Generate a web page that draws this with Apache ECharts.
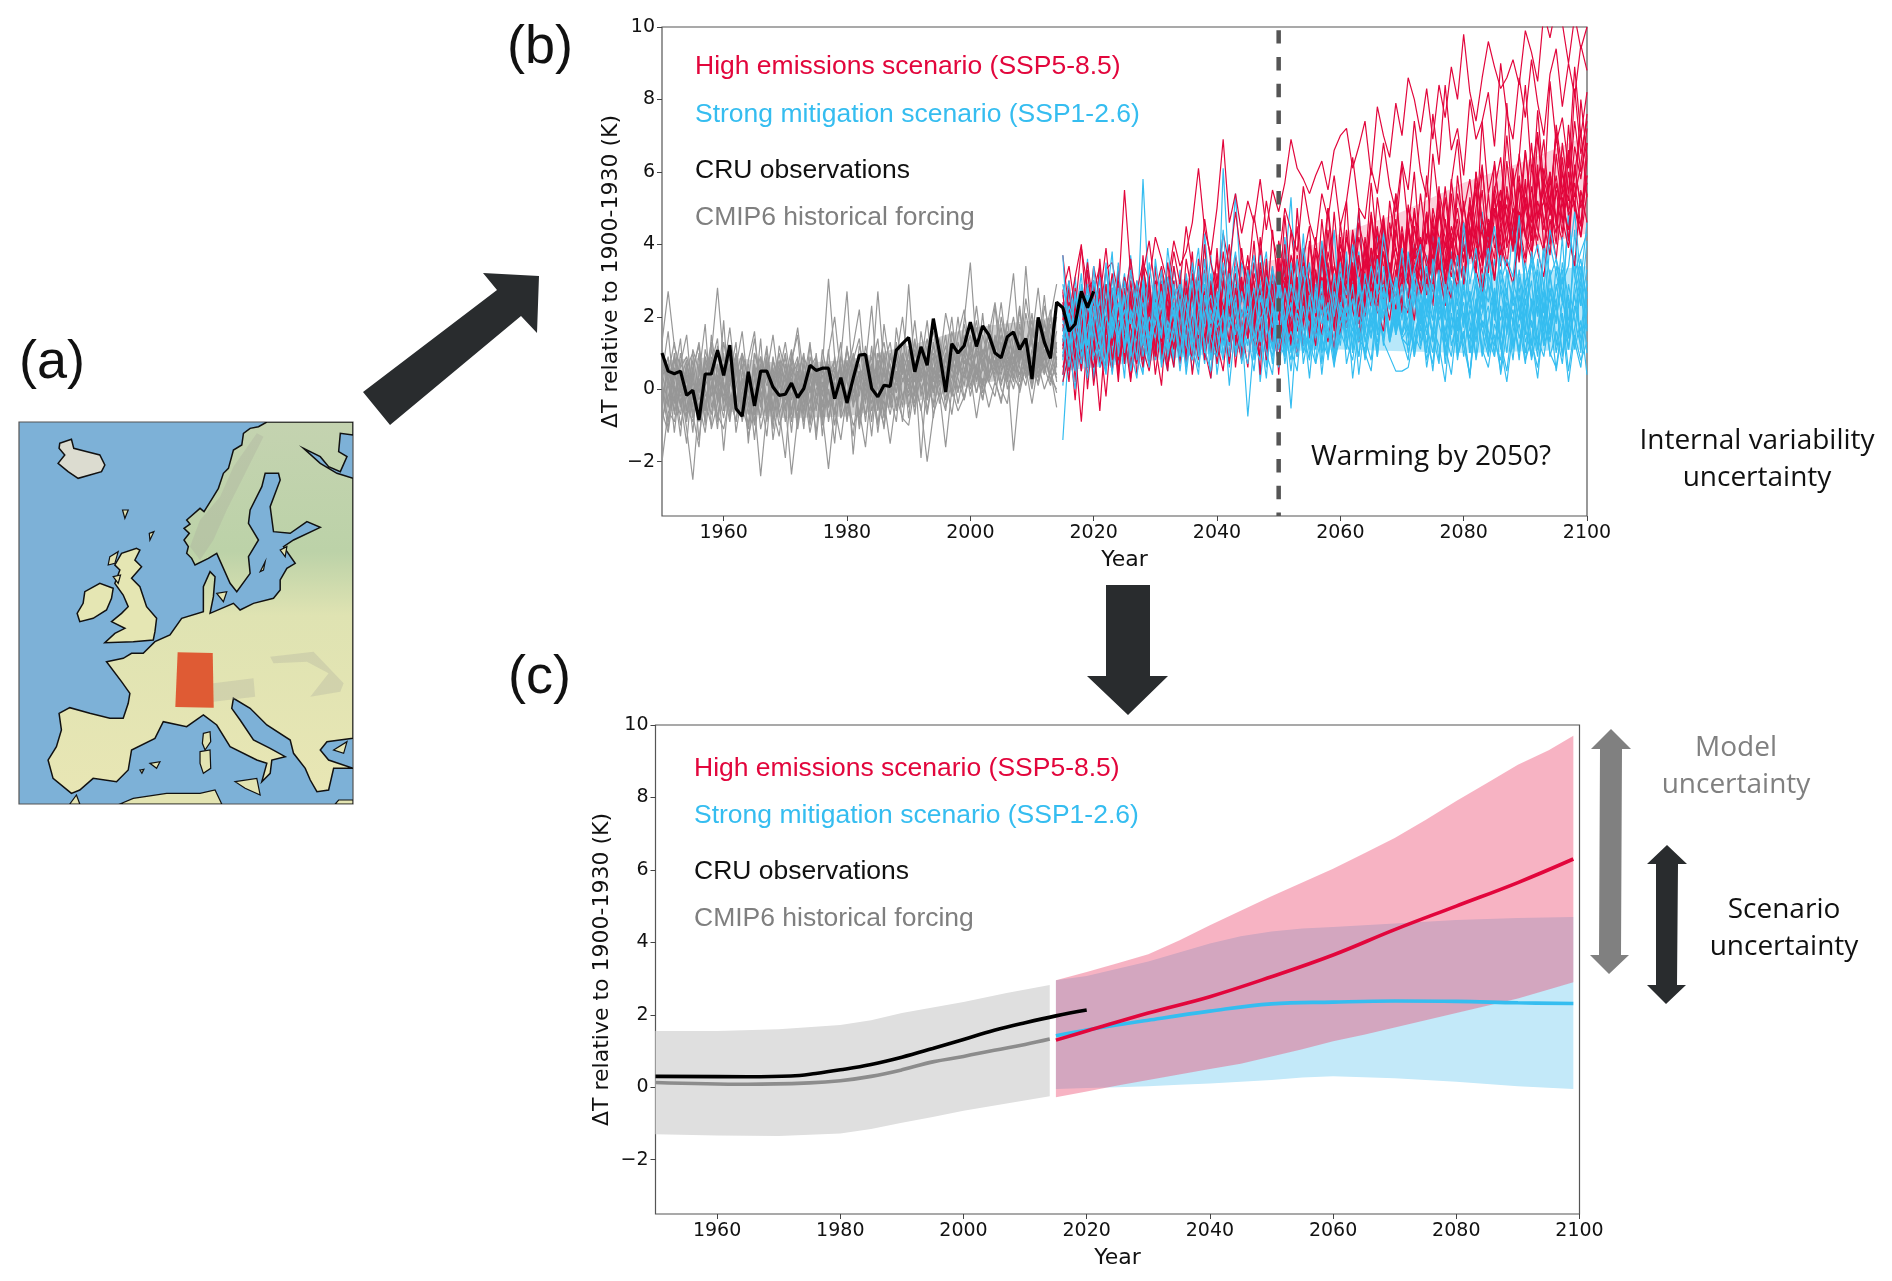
<!DOCTYPE html>
<html>
<head>
<meta charset="utf-8">
<title>Warming uncertainty</title>
<script src="https://cdn.jsdelivr.net/npm/echarts@6/dist/echarts.min.js"></script>
<style>
html,body{margin:0;padding:0;background:#fff;}
#main{width:1892px;height:1281px;}
</style>
</head>
<body>
<div id="main"></div>
<script>
// tick labels
var xTicks = [1960,1980,2000,2020,2040,2060,2080,2100];
var yTicks = [-2,0,2,4,6,8,10];
var legendLabels = ['High emissions scenario (SSP5-8.5)','Strong mitigation scenario (SSP1-2.6)','CRU observations','CMIP6 historical forcing'];

// panel b: CRU observations, 1950-2020
var cruYearly = [1.0,.5,.43,.5,-.17,-.03,-.85,.42,.42,1.08,
.38,1.22,-.53,-.75,.48,-.46,.5,.5,.06,-.17,
-.14,.17,-.23,.02,.66,.52,.58,.58,-.26,.32,
-.38,.3,.94,.96,.02,-.21,.11,.08,1.08,1.26,
1.43,.48,1.17,.66,1.95,1.0,-.08,1.26,1.0,1.2,
1.85,1.18,1.75,1.5,1.0,.87,1.45,1.58,1.1,1.4,
.28,1.98,1.3,.85,2.4,2.25,1.6,1.8,2.7,2.25,2.7];

// panel b: historical members, 1950-2014
var histRuns = [
[1.3,2.7,1.2,.6,.9,.2,-.3,.4,1.0,2.8,.8,.2,1.0,-.4,.3,1.4,.1,.6,-.2,.7,.3,1.1,.0,-.5,.6,.9,-.1,.4,.8,-.2,.5,1.2,2.2,.3,-.4,.6,1.3,.2,.9,.4,2.9,.5,1.1,-.2,.8,1.4,.3,1.0,.6,1.9,3.5,1.1,.7,1.6,.9,.4,1.2,2.0,.8,3.4,1.3,.7,1.9,1.0,2.4],
[-2.0,-.6,-.9,.1,-1.1,-2.5,-.4,-1.2,.2,-.7,-1.1,-.2,-.9,.3,-1.3,-.5,-2.4,-.6,.1,-1.0,-.4,-2.35,-.8,.0,-1.2,-.3,-.7,-2.2,-.5,-1.4,-.1,-1.0,-.6,-1.6,.2,-.9,-.3,-1.5,-.2,-.8,-1.0,.1,-.5,-2.0,-.7,-.1,-1.6,.0,-.6,-.2,.4,-.8,.3,-.5,.2,-.3,.5,-1.7,.1,.6,-.4,.7,.0,.5,-.5],
[.9,.1,-.6,.7,1.5,-.3,.4,1.8,-.5,.2,1.0,-.8,.6,1.6,.0,-1.0,.9,.3,-.6,1.2,.5,-.7,.8,.2,1.3,-.4,.6,3.05,.9,-.3,1.1,.4,-.9,.7,2.3,.1,1.0,-.5,1.7,.6,.2,1.3,.7,1.9,.3,-.2,1.0,.5,1.5,2.2,.8,1.4,.5,1.8,1.1,2.4,.9,1.6,.7,2.1,1.2,.6,2.3,1.5,.8],
[-.5,.7,.2,-1.0,-.2,.6,-1.4,.1,.5,-.8,.3,.9,-1.2,-.1,.7,-.9,.2,1.2,-.6,-1.3,.1,.6,-1.0,.4,-.4,1.0,-.7,.0,-1.5,.5,-.2,-1.3,.3,.8,-.6,.1,-1.1,.4,1.0,-.3,.5,-.7,.9,.2,-.4,1.1,.0,.6,-.1,.8,.3,1.0,.1,1.3,.5,.9,.2,1.5,.6,.1,1.1,.4,1.6,.7,.3],
[.2,-.9,.8,.3,-.6,1.1,.5,-.3,-1.0,.7,-.4,.4,1.3,-.7,.5,.0,-.8,.9,-1.1,.3,1.0,-.2,.5,-.9,.1,-1.2,.6,-.5,.3,1.3,-.8,.2,.7,-.4,1.2,-.6,.5,-.2,-.9,.8,.1,-.5,.4,1.2,-.8,.6,1.5,-.1,.9,.3,1.2,.5,2.1,.4,1.0,1.7,.6,1.2,.2,1.4,.7,1.9,.9,.4,1.3],
[.6,.3,-.4,1.0,-.1,.8,-.6,.9,.3,-.2,1.9,-.5,.1,.7,-1.5,.4,.9,-.3,.6,-.7,-.1,.8,1.5,-.4,.2,.7,-1.0,.5,-.3,.9,2.7,.0,-.7,.4,.9,-.5,1.8,.6,-.1,1.0,.4,1.4,-.2,.7,1.0,.1,.8,2.0,.4,.9,1.5,.2,1.1,.7,2.3,.5,1.0,.3,1.8,.9,.4,1.2,.8,2.0,1.1],
[-.8,-.2,.5,-.5,.3,-1.2,.7,.0,-.7,.4,-1.7,.2,.6,-.9,.1,.5,-1.1,-.3,.4,-.6,-1.9,.3,-.2,.5,-1.0,.0,.4,-.8,.2,-.5,.6,-1.8,.1,-.3,.5,-1.2,.2,.7,-.6,.3,-.1,.6,-1.9,.4,.9,-.4,.3,-.7,.5,1.0,-.2,.6,.0,.9,.3,-.4,.8,.2,1.1,.4,.8,.1,.9,.3,.0],
[.4,1.6,-.2,-.7,.6,1.0,-.1,.3,1.3,-.4,.5,1.7,.2,-.6,.8,1.6,-.2,.4,1.5,.1,-.6,.7,1.7,.3,-.1,.5,-.8,1.0,2.0,.4,-.4,.8,1.4,-.2,.3,2.7,.6,-.3,.8,2.0,.5,1.1,.2,.9,1.6,.7,2.1,1.3,.5,1.8,1.0,2.3,.9,1.5,2.4,1.1,1.8,3.2,1.0,2.5,1.4,2.8,1.2,2.0,2.9],
[-.3,.5,-1.2,.3,.8,-.7,-1.6,.6,-.2,1.2,.0,-.9,.4,1.0,-.5,.7,-.2,-1.3,.5,.1,.9,-.6,.2,-1.1,.7,.3,-.4,.6,-1.0,.1,1.1,.4,-.7,.2,-1.3,.5,.9,-.1,.5,-.9,.7,.2,1.2,-.3,.6,.0,-.6,.9,.3,-.3,.5,1.1,-.1,.4,.8,.0,-.4,.9,.4,.8,.0,1.0,.4,1.5,.2],
[1.1,-.4,.3,1.4,-.8,.6,1.2,-.6,.8,.1,-.3,1.1,.5,.0,-1.0,1.0,.3,.7,-.5,.4,1.3,.1,-.8,.9,.4,-.6,1.1,.2,.6,-.7,.4,.9,-.2,1.2,.3,-.5,.7,1.3,.1,.5,1.0,-.1,.6,1.4,.2,.9,.4,1.6,.8,1.2,.6,1.7,.9,.3,1.5,.8,1.3,.5,2.2,.7,1.7,1.0,2.6,.9,1.6],
[.0,-1.1,.6,-.3,-1.5,.4,-.7,.8,.2,-1.1,.7,-.1,-.9,.5,.2,-1.4,.4,-.6,.9,-.2,.3,-1.2,.5,.0,-.6,.8,-1.3,.3,-.1,.7,-.9,.4,.0,.8,-.2,-1.0,.6,-.4,.3,1.0,-.5,.5,.1,-.7,.4,1.2,-.3,.7,-.4,.5,.0,.7,-.3,.9,.2,1.3,.0,.6,1.2,.3,.9,.3,1.3,.5,-.1],
[.7,.4,1.3,.0,.5,-.5,1.0,-1.0,1.5,.3,-.2,.7,-.6,1.0,.4,-.3,1.4,-.9,.2,.8,-.5,.4,.9,-.3,1.2,.1,.7,-.1,-.7,.9,.2,-.4,1.2,.5,-.9,.8,.1,-.7,.3,1.3,.6,1.9,.3,.8,.0,1.0,.6,-.2,1.3,.7,1.0,.2,1.5,.8,.4,2.0,1.1,.5,1.6,1.0,2.1,.7,1.4,2.2,.6],
[-.6,-1.2,.1,-.4,.4,-.8,-.1,.9,-1.1,-.4,.2,-.7,.8,-.5,-1.1,.3,-.4,.7,-1.4,-.2,.4,-.9,.1,-.6,.5,-1.4,.2,-.4,.9,-.8,-.3,.6,-1.1,.0,.7,-.4,-1.0,.3,-.5,.6,-.2,.3,-.6,.5,-.1,.7,-.5,.2,1.0,-.3,.6,-.1,.8,.2,-.2,.9,.3,1.1,-.1,.7,.2,1.3,.5,.9,.4],
[.3,.9,-.7,.2,-.9,.5,1.3,-.2,.1,-.9,.6,1.1,-.3,.3,-.7,1.0,.4,-.8,.8,.2,-.3,1.0,-.6,.7,.0,.4,-.2,1.1,-.7,.3,.7,-.1,.5,-.9,.6,1.4,-.3,.9,.4,-.5,1.1,.3,.6,-.3,1.3,.5,.0,1.1,.7,1.5,.4,1.2,.8,.3,1.4,.6,1.9,.7,1.3,.5,1.6,1.1,.6,1.8,1.0],
[-1.0,.2,-.3,.5,-.5,-.9,.2,-.6,.6,.0,-.8,.6,-.4,.1,.4,-.7,.0,.5,-.9,.6,-.3,.2,-1.1,.1,.6,-.2,.8,-.9,.1,-.4,.8,-.5,.3,-.7,.1,.5,-.8,.1,.7,-.2,.3,-.4,1.1,-.6,.5,.2,.9,-.2,.4,1.1,.1,.5,-.3,.7,1.1,.2,.6,.0,.8,1.3,.1,.9,.6,.1,.9],
[.5,-.5,1.0,-.1,.7,.1,-.9,1.1,.4,-.3,1.3,.3,-.5,.9,.3,-.2,.6,-.6,.3,1.0,-.1,.4,.7,-.7,.9,.2,-.5,.7,.3,.6,-.2,1.0,.3,.5,-.2,1.0,.4,-.1,1.3,.2,.8,-.2,1.6,.5,1.2,.3,1.0,.6,2.0,.5,1.1,1.9,.6,1.2,.7,1.5,.4,1.1,2.3,.8,1.4,.6,1.8,1.2,.7],
[-.2,.6,.0,-1.3,.7,-.2,.3,-.5,.7,1.4,-.6,.1,.9,-.3,.3,-.7,.7,.1,.3,-.5,.7,-.3,.3,1.0,-.9,.6,.1,-.5,.5,.2,-.6,.7,-1.0,.3,.0,.8,-.7,.5,-.1,.9,-.8,.8,.0,.5,-.5,.4,.2,.9,.0,.5,.9,-.1,.6,.2,.7,.1,.9,.4,.0,1.0,.5,.2,1.1,.2,.7],
[1.0,.2,.9,-.2,.1,-.7,.3,-.9,.9,.5,.1,-.4,.4,.6,-.3,.6,-.5,1.1,.0,.5,-.9,.6,.2,-.2,.3,.5,-.4,.2,.6,-.1,1.2,-.3,.5,.1,.7,.3,-.2,1.0,.2,.7,.0,1.0,.5,.9,-.1,.6,1.2,.3,.8,.1,1.3,.4,1.0,1.5,.6,1.1,1.6,.8,.4,1.3,1.9,.6,1.5,1.1,2.0]
];

// panel b: SSP5-8.5 members, 2015-2100
var sspHighRuns = [
[2.7,3.4,2.2,3.9,2.8,3.0,2.1,3.3,3.5,2.6,5.5,3.2,2.7,3.5,3.0,4.2,3.6,2.9,4.1,3.4,3.8,4.6,6.1,4.4,3.7,5.0,6.9,4.6,5.4,4.3,5.2,4.6,5.8,4.4,5.5,4.9,5.7,6.9,6.1,5.8,5.4,5.9,6.3,5.5,6.6,7.0,7.2,6.1,6.7,7.4,5.9,7.8,7.0,6.4,7.9,7.0,8.6,8.0,7.1,8.3,6.9,8.4,7.5,8.9,8.0,9.8,8.2,7.4,8.6,9.6,8.9,8.3,8.6,9.1,8.4,9.9,9.3,8.5,10.4,9.7,10.6,10.1,9.0,10.3,9.4,10.0],
[3.7,2.1,3.1,4.0,1.8,3.4,2.5,3.9,2.2,3.0,2.4,3.6,2.3,3.2,4.1,2.7,3.4,2.5,3.8,2.9,4.5,3.3,2.6,4.7,3.5,2.8,4.3,3.4,4.9,3.6,3.0,4.8,3.7,5.2,4.2,3.5,5.0,4.4,3.8,5.6,4.6,4.0,5.4,4.7,5.9,4.5,5.2,6.4,5.0,4.7,6.1,5.4,6.8,5.6,4.9,6.3,5.5,7.4,6.0,5.3,7.6,6.2,8.4,6.6,7.2,5.9,8.0,6.9,7.4,8.2,6.7,9.0,7.6,6.9,8.6,7.5,9.1,7.9,7.0,8.7,9.4,7.8,9.0,8.1,9.5,8.8],
[.9,1.6,-.3,2.0,.6,1.3,-.6,1.8,2.4,.8,1.5,.2,2.1,1.1,.5,1.7,2.5,.9,1.4,2.2,.7,1.9,2.6,1.1,.3,2.3,1.5,.9,2.8,1.7,.6,2.4,1.2,3.0,1.8,1.1,2.7,3.3,1.6,2.3,3.0,1.4,2.6,3.5,2.0,2.9,1.7,3.4,2.4,3.9,2.8,2.1,4.1,3.0,2.5,3.6,4.4,2.9,3.4,2.6,4.0,3.1,4.7,3.5,2.8,4.2,5.1,3.6,4.4,3.2,4.8,5.5,3.9,4.5,5.9,4.2,3.6,5.2,4.4,6.0,4.7,5.5,4.1,6.2,5.0,5.7],
[1.4,.2,2.6,1.0,2.2,.1,1.5,2.9,.8,1.9,1.2,2.7,.4,1.6,3.1,1.0,2.2,1.5,.6,2.6,1.8,.8,3.2,1.4,2.4,.7,1.9,3.5,1.5,.9,2.5,3.0,1.2,2.1,3.4,.4,2.6,1.7,.9,3.1,2.0,1.2,3.6,2.4,1.0,3.0,1.8,3.3,1.3,2.7,3.9,2.2,1.6,3.5,2.5,4.3,3.0,1.9,3.8,2.9,4.6,3.3,2.3,4.1,3.0,5.2,3.6,4.4,2.8,3.9,5.0,3.4,4.5,6.1,3.7,5.3,4.1,5.9,4.6,3.7,5.5,4.3,6.5,5.0,4.2,6.4],
[2.2,1.2,.5,1.6,2.9,1.0,2.3,.7,1.4,3.2,2.0,.9,1.7,2.6,.6,2.9,1.3,3.5,2.1,1.0,2.8,1.6,3.3,.8,2.2,1.5,3.8,2.5,1.3,3.0,2.1,4.1,1.9,2.7,1.4,3.6,2.4,4.4,2.9,1.7,3.4,2.3,4.7,3.1,1.8,3.7,2.7,4.3,2.0,3.3,4.8,3.0,3.8,2.4,5.4,3.4,2.9,4.5,3.5,4.9,2.7,3.8,5.6,4.0,3.1,4.6,3.7,6.0,4.4,3.3,5.3,4.1,6.3,4.8,3.5,5.6,4.3,7.0,5.1,6.0,4.5,6.8,5.4,7.4,6.0,6.8],
[.4,1.9,1.1,-.9,1.5,2.4,.6,1.1,2.0,.2,2.5,1.3,.7,1.9,2.8,1.2,.1,2.3,1.6,3.0,1.0,2.0,.8,2.7,1.4,3.2,1.9,.7,2.5,1.3,3.4,2.2,.9,2.9,1.6,3.9,2.3,1.2,3.1,2.0,4.1,2.6,1.5,3.3,2.1,4.2,2.9,3.5,1.8,4.0,2.6,3.4,4.7,3.0,2.2,4.3,3.3,5.0,3.7,2.8,4.4,3.2,5.3,3.9,4.7,3.0,4.1,5.5,3.6,4.6,3.0,5.2,4.0,5.9,4.5,3.6,6.2,4.8,5.5,4.0,6.5,5.1,4.4,6.0,7.1,5.3],
[2.7,.8,1.7,2.6,.0,1.9,3.1,1.3,.5,2.2,.9,1.8,3.0,1.2,2.3,.4,1.7,2.9,1.9,.8,2.4,1.3,3.6,2.2,1.0,2.7,1.7,3.0,.6,2.2,1.4,3.2,2.5,.8,2.9,1.9,3.6,1.3,2.4,3.8,1.9,2.9,2.2,4.4,2.6,1.5,3.6,2.7,5.0,2.3,3.2,4.0,2.5,4.6,3.5,2.7,5.1,4.0,3.0,4.3,3.6,5.6,3.0,4.2,5.0,3.8,4.5,3.3,6.1,4.3,3.6,5.5,4.7,3.9,6.5,5.0,4.1,5.7,6.9,4.8,5.9,4.6,7.3,5.3,6.2,7.6],
[1.1,2.4,1.9,.6,3.3,1.6,.9,2.5,1.2,3.4,.7,2.0,1.4,2.8,1.8,.9,3.3,2.2,1.1,2.7,.6,3.1,1.8,2.4,1.2,3.9,1.5,2.6,2.1,1.0,2.8,1.6,4.2,2.5,1.3,3.5,1.9,3.0,4.5,2.3,1.5,3.8,2.8,3.3,1.9,4.6,3.1,2.4,3.6,2.9,4.9,3.4,2.7,4.1,5.4,3.7,3.0,4.9,3.4,2.9,5.0,4.2,3.4,5.8,4.3,3.6,4.9,4.1,5.5,3.5,6.3,4.6,5.4,4.0,5.0,6.6,4.8,4.1,6.1,5.2,7.1,5.4,6.6,4.9,8.0,6.4],
[1.9,3.0,.2,2.3,1.4,2.7,3.4,.6,2.1,1.5,3.1,2.4,1.0,3.7,1.6,2.5,.9,3.1,2.0,1.3,3.6,2.6,1.4,2.9,1.9,.9,3.0,2.2,1.5,3.9,2.4,1.2,3.3,2.1,4.4,2.7,1.7,3.7,3.0,1.8,4.0,3.2,2.3,5.0,3.5,2.4,4.4,3.0,3.7,2.2,4.8,3.5,2.8,5.2,3.9,3.1,4.4,6.0,3.7,4.9,3.4,5.5,4.6,3.3,5.9,4.4,3.7,5.0,6.2,4.2,5.6,4.7,7.0,5.2,4.3,6.6,5.0,7.7,5.6,4.8,7.3,6.0,5.2,8.3,6.5,7.4],
[.6,1.3,2.2,1.7,.3,2.9,1.8,1.0,2.7,.5,1.6,3.3,2.2,.8,2.0,3.0,1.5,.5,2.8,1.7,.9,3.2,2.0,1.1,2.6,3.6,1.7,.8,2.3,3.1,1.4,2.7,.4,3.3,2.4,1.5,4.0,2.0,3.0,1.2,2.7,4.2,2.2,3.2,1.6,3.8,2.5,4.4,3.3,2.0,3.9,2.9,4.6,2.5,3.6,2.1,4.5,3.5,2.7,4.8,3.2,4.2,2.9,5.4,3.7,3.0,4.6,5.7,3.4,4.4,5.3,3.7,4.8,3.9,5.6,4.3,3.8,6.0,4.6,5.2,4.0,6.4,4.9,5.7,4.5,6.8],
[2.4,1.0,2.8,.9,2.0,1.2,3.6,1.5,2.7,1.0,2.3,.6,2.9,2.0,1.2,3.4,.8,2.1,3.0,1.1,2.2,3.8,1.0,2.0,3.0,1.5,2.9,4.0,1.2,2.6,3.7,1.8,2.8,1.1,3.3,2.2,4.8,2.9,1.7,3.6,4.5,2.0,3.1,2.5,4.9,3.0,5.2,2.6,4.2,3.3,5.7,3.9,4.8,3.2,4.3,6.2,4.5,3.6,5.4,4.0,6.5,5.0,3.9,5.7,6.9,4.9,5.8,4.3,7.4,5.4,6.2,4.8,7.9,5.6,6.4,8.4,6.0,7.1,5.4,8.5,6.8,7.5,6.1,8.9,7.0,8.2],
[1.6,2.8,1.3,2.1,3.5,2.2,.7,1.9,3.2,2.3,1.1,2.4,1.9,3.3,2.5,1.4,2.9,1.7,3.4,2.3,1.5,2.7,2.0,4.0,1.7,2.9,2.3,1.3,3.7,2.8,1.9,3.5,2.6,3.0,1.8,4.1,3.2,2.0,5.0,2.9,2.2,3.9,3.4,5.0,2.7,4.0,3.3,2.5,4.6,3.8,3.0,5.3,4.1,3.1,4.7,2.8,5.0,4.4,3.5,5.9,3.9,4.8,4.2,3.4,5.4,4.5,3.8,6.0,4.7,4.0,5.5,6.4,4.6,3.9,5.7,5.0,6.8,4.7,5.8,5.1,7.0,5.6,4.9,6.7,5.8,7.2],
[.2,1.0,1.7,.5,2.4,.9,1.4,-.2,1.9,1.1,2.6,.3,1.3,2.0,.8,1.5,2.7,.6,1.7,1.2,2.3,.4,1.9,.9,2.7,1.3,.5,2.2,1.6,.8,2.9,1.5,.9,2.4,1.7,.7,3.0,1.9,1.1,2.6,1.4,3.3,2.1,1.3,2.8,1.8,3.5,2.2,1.5,3.1,2.3,3.7,2.7,1.9,3.3,2.4,2.1,3.9,2.6,3.2,2.3,4.2,3.0,2.5,3.7,2.9,4.4,3.3,2.6,4.0,3.0,4.6,3.5,2.9,4.3,3.4,5.0,3.8,3.1,4.7,3.6,5.3,4.2,3.4,5.5,4.6],
[1.8,1.0,2.3,1.4,.7,2.5,1.1,2.0,1.6,.9,2.8,1.7,1.1,2.4,2.9,1.6,1.0,2.6,1.3,2.1,3.0,1.4,2.5,1.8,1.1,2.2,3.3,1.9,1.3,2.9,1.8,1.2,3.5,2.3,1.6,2.9,2.2,1.4,3.7,2.6,1.9,3.2,2.1,3.8,2.9,2.3,3.4,2.7,1.9,4.2,3.0,2.4,3.8,2.8,4.4,3.3,2.5,4.0,3.6,2.8,4.8,3.5,2.7,4.3,3.4,5.1,3.9,3.2,4.7,3.7,5.4,4.0,3.4,5.0,4.2,5.8,3.8,4.7,5.2,4.0,5.7,4.7,3.9,6.1,5.1,5.9],
[2.1,.5,1.4,2.7,1.2,.6,2.2,1.7,2.8,.4,1.9,1.3,2.5,.9,1.8,2.3,1.1,3.0,1.5,.9,2.2,2.8,1.6,1.1,2.9,2.0,1.3,2.5,3.2,1.6,2.3,.9,2.9,1.9,2.5,3.4,1.2,2.7,2.1,3.4,2.5,1.7,4.0,2.3,3.4,2.8,2.0,3.9,3.0,2.4,3.5,4.5,2.5,3.3,3.9,2.9,4.6,3.2,4.1,3.4,2.7,4.9,3.8,3.1,4.4,3.5,5.2,4.1,3.5,5.4,3.9,4.4,5.1,3.8,4.9,4.2,5.6,4.4,3.8,5.8,4.7,4.1,6.0,5.0,4.5,5.9],
[1.2,1.9,.8,2.4,1.7,1.0,2.8,.9,2.3,1.8,1.0,3.0,1.6,.6,2.4,1.9,2.9,1.4,2.0,.7,2.6,1.7,2.2,3.3,1.0,2.4,1.8,3.3,2.0,1.4,3.1,2.4,1.6,3.6,1.3,2.5,3.1,2.4,1.8,3.5,3.0,2.2,3.7,1.9,3.1,2.6,4.2,3.2,2.3,3.6,2.9,4.4,3.4,2.6,3.1,4.5,3.3,2.7,4.2,3.6,3.0,5.2,3.3,4.5,3.8,2.9,5.3,4.0,3.2,4.7,4.2,3.6,5.6,4.4,3.6,5.1,4.6,6.2,3.9,5.0,4.3,6.0,4.8,5.2,4.2,5.4]
];

// panel b: SSP1-2.6 members, 2015-2100
var sspLowRuns = [
[-1.4,1.3,2.4,.8,1.7,2.9,1.1,3.3,1.9,.7,2.2,3.7,1.5,5.8,2.4,1.2,2.9,1.7,3.4,2.1,1.3,2.8,3.9,1.8,2.5,1.1,6.1,3.0,5.4,2.4,3.3,1.7,2.9,3.8,1.4,2.6,3.4,5.3,2.2,3.1,1.6,2.8,3.5,1.9,3.0,2.4,1.5,3.4,4.9,2.6,2.0,3.1,4.5,2.8,1.9,3.6,2.5,4.0,3.3,2.1,4.3,3.0,1.9,3.5,2.7,4.1,2.4,3.3,4.9,2.9,2.1,4.0,3.2,2.5,4.4,2.9,3.6,2.0,4.1,3.1,3.6,2.4,4.7,3.2,3.8,4.3],
[3.7,.9,2.7,1.4,.3,1.8,3.1,.7,2.0,1.3,2.6,.5,1.6,2.4,1.0,2.9,.6,1.9,1.3,2.5,.4,1.8,3.0,1.1,.5,2.2,1.4,3.2,.9,1.7,-.75,1.3,2.0,1.0,.4,2.5,1.6,-.53,1.9,1.0,2.6,.7,1.5,2.2,.9,1.8,2.5,.3,1.7,1.0,.5,2.3,1.3,.9,.5,.5,.6,1.5,2.2,.8,1.7,1.2,.2,2.1,1.0,1.6,.3,2.4,1.1,.6,1.8,1.2,.2,1.6,2.3,.8,1.4,.3,2.0,1.0,.6,1.8,.2,1.5,.8,1.3],
[.1,2.1,1.0,2.9,1.5,.4,2.4,1.2,3.1,1.6,.7,2.7,1.9,3.4,1.2,2.3,.8,1.6,2.8,1.1,3.2,2.0,1.3,4.3,2.3,1.5,3.1,2.2,1.0,3.5,2.5,1.7,3.9,2.1,2.9,1.4,4.2,2.7,1.8,3.3,2.2,1.2,3.5,2.6,4.4,1.9,3.0,2.4,3.8,1.5,2.9,4.3,2.2,3.3,1.8,2.9,3.6,2.6,1.8,3.7,2.4,4.2,2.0,3.2,2.7,1.7,3.9,3.0,2.2,4.4,1.9,3.3,2.6,4.5,2.2,1.6,3.8,2.9,2.1,4.0,3.2,2.4,4.9,3.1,2.3,4.1],
[2.3,1.1,.0,1.9,2.8,.9,1.4,2.3,.4,1.8,2.6,1.1,.3,2.0,1.2,2.7,.7,1.5,2.2,.5,1.9,1.2,.4,2.6,1.4,.9,2.2,.1,1.8,1.3,2.9,.8,1.6,.3,2.4,1.1,1.9,.5,2.1,1.5,.8,2.7,1.0,1.7,.6,2.3,1.3,.8,2.0,1.6,2.7,1.1,2.4,1.3,2.2,1.5,2.4,.9,2.0,1.3,.7,2.5,1.5,.9,2.2,1.2,.4,1.8,2.6,1.0,1.5,.5,2.3,1.2,1.8,.7,2.5,1.4,.9,2.1,.5,1.7,2.6,1.1,1.9,.4],
[.8,2.7,1.6,.5,2.2,1.4,3.4,.9,2.5,1.8,.3,2.9,1.3,2.2,3.0,.8,1.9,2.5,.7,3.3,1.7,2.6,1.1,2.0,3.7,1.3,2.3,.6,2.9,1.8,1.2,3.5,2.4,1.0,2.7,3.2,1.6,.8,2.2,4.3,1.7,2.9,1.1,3.3,2.3,1.4,3.0,1.9,.9,2.5,3.7,1.5,2.4,3.1,1.8,2.6,1.4,3.4,2.0,2.9,1.3,3.1,2.3,3.8,1.6,2.7,1.9,.9,3.0,2.4,3.6,1.4,2.6,1.8,3.3,2.1,1.2,3.6,2.2,1.5,3.4,2.7,1.1,2.9,3.6,2.2],
[1.7,.6,1.9,3.2,.8,2.3,1.2,.4,2.8,1.5,2.2,.9,3.0,1.8,.6,2.4,1.5,3.1,2.0,.9,2.6,1.3,3.4,1.0,2.2,1.6,.8,2.9,2.1,1.2,3.3,1.4,2.5,1.9,.7,3.0,1.7,2.4,1.1,2.8,3.5,1.4,2.2,.9,2.7,1.8,2.3,1.1,3.1,2.0,1.4,2.6,2.9,1.5,2.6,1.4,1.2,2.9,1.6,3.4,2.2,.8,2.6,1.5,2.9,2.0,1.2,3.2,1.7,2.3,.9,2.8,1.6,3.0,2.3,1.0,2.2,3.3,1.4,2.7,1.8,3.5,2.5,1.2,3.0,1.7],
[.4,1.5,3.1,1.1,2.0,.8,2.6,1.7,.6,2.2,3.2,1.4,2.5,.5,1.8,2.9,1.2,.5,2.4,1.7,3.1,.9,2.1,1.3,2.8,.4,1.7,2.3,.9,3.0,1.5,.5,2.1,3.4,1.3,2.5,.7,1.9,2.8,1.0,1.6,2.3,.4,2.0,1.2,2.8,.7,1.5,2.2,.8,1.9,1.3,2.4,1.4,2.3,1.5,2.8,1.1,2.3,.6,1.7,2.6,1.2,.4,2.0,1.4,2.7,.8,1.9,1.1,2.4,.4,1.6,2.2,.8,2.8,1.3,.6,1.9,2.5,1.0,2.1,.5,1.7,2.8,1.0],
[2.9,1.9,.5,2.4,1.2,3.0,2.1,.8,1.7,3.5,1.0,2.2,1.6,2.9,.9,2.0,3.3,1.4,2.4,1.0,1.9,3.0,.9,3.6,1.8,2.4,1.2,2.8,3.8,1.6,2.3,.9,2.6,1.9,3.4,1.3,2.8,2.0,3.6,1.2,2.4,1.6,3.0,.8,2.2,3.5,1.7,2.5,1.3,3.2,2.4,1.6,3.4,2.2,3.1,1.9,3.8,2.5,1.4,2.9,1.9,3.3,.9,2.4,3.7,1.8,2.7,1.3,2.9,3.9,2.0,1.4,3.3,2.3,2.8,1.5,3.8,2.4,1.6,3.1,2.2,4.2,1.6,2.6,3.4,2.5],
[1.2,2.4,.8,1.5,2.6,.2,1.8,2.9,1.1,.6,1.9,2.5,1.0,.4,2.7,1.5,2.2,.7,1.3,3.0,2.1,.5,1.6,2.4,.3,1.9,2.9,1.2,2.2,.8,1.5,2.7,.2,1.8,1.1,2.4,.9,3.0,1.4,1.9,.3,2.1,1.3,2.7,.8,1.6,1.1,2.4,.4,1.9,3.1,.9,2.5,1.3,2.1,1.4,.8,2.6,1.2,1.8,.5,2.2,1.4,2.8,.9,1.5,.4,2.3,1.6,.9,2.7,1.3,.5,1.9,1.1,2.5,.8,1.7,2.9,.9,1.6,.7,2.4,1.3,.6,2.2],
[2.0,3.0,1.3,.7,2.3,1.7,.9,3.5,1.4,2.4,1.1,3.3,2.2,1.4,.8,3.6,2.3,1.1,2.9,1.6,.6,2.4,1.5,3.2,.8,2.1,3.5,1.7,2.6,.7,2.0,2.8,1.3,3.1,2.3,.6,1.7,2.9,2.2,3.4,.9,1.8,2.6,1.4,3.2,2.0,3.8,1.0,2.3,2.9,1.7,3.6,2.0,3.2,1.7,2.9,1.6,3.2,2.6,1.0,3.6,1.9,2.4,3.0,1.3,3.4,2.2,2.9,1.0,3.2,2.4,3.7,1.5,2.7,1.9,3.5,2.3,1.1,3.9,1.9,2.8,3.3,1.5,4.4,2.3,3.3],
[1.5,.3,2.2,1.7,3.6,1.0,2.7,1.9,.9,2.9,1.4,.6,2.1,3.1,1.7,.9,2.6,1.9,.6,2.2,2.9,1.1,1.8,.7,3.0,2.3,1.3,1.9,3.2,1.0,2.6,1.6,3.0,.6,2.1,1.7,3.3,1.1,.5,2.4,1.9,3.3,.7,2.3,1.7,2.7,1.4,3.0,2.0,.9,2.4,2.9,1.2,2.7,1.5,2.5,1.0,1.9,3.0,2.4,1.5,2.9,.7,2.0,1.7,3.1,1.0,2.4,3.2,1.4,.9,2.9,2.2,1.2,3.1,1.7,.9,2.6,1.9,3.3,1.2,2.4,1.9,3.7,1.0,2.7],
[.9,2.0,1.4,2.6,.6,3.4,1.6,2.3,3.8,.9,3.0,1.8,2.7,1.2,3.5,2.2,1.4,3.9,2.5,2.9,1.2,3.5,2.3,1.7,3.2,1.9,4.4,2.3,3.4,2.0,2.8,3.7,1.9,2.3,3.3,2.7,1.6,3.5,2.3,3.9,2.7,2.1,4.1,3.0,2.0,3.2,2.6,4.0,2.9,2.1,3.4,2.6,4.3,3.1,2.6,3.9,2.3,3.3,4.0,2.0,3.2,4.2,2.6,3.6,2.3,4.6,2.9,3.9,2.4,3.5,4.5,2.9,3.6,3.1,4.8,2.6,3.4,4.0,2.8,4.4,3.6,2.9,3.4,4.9,3.0,4.6],
[1.0,1.8,.6,2.5,1.3,2.0,.7,2.9,1.6,2.2,1.1,.8,2.4,1.7,3.1,1.0,2.1,1.4,3.0,.9,1.6,2.7,1.1,2.2,.8,2.6,1.6,1.2,2.3,.8,2.0,1.1,2.7,1.5,.9,2.3,1.8,1.2,2.9,.7,1.7,2.4,1.4,.9,2.1,1.2,2.9,1.8,.9,2.3,1.5,2.8,1.4,2.6,1.5,2.3,2.2,.9,2.7,1.8,1.0,2.3,1.6,2.9,.8,2.1,1.4,2.5,.9,1.9,2.8,1.1,2.1,.8,2.6,1.3,1.9,.9,2.7,1.6,2.3,1.0,1.7,2.6,1.4,1.8],
[1.9,1.2,2.6,.9,1.7,2.5,1.4,.5,2.1,2.7,1.7,1.0,2.3,.9,2.0,1.4,2.6,.9,1.8,2.4,1.2,.8,2.2,2.9,1.5,2.7,.9,2.0,1.5,2.7,1.9,1.2,.8,2.5,1.7,2.9,1.1,1.6,.9,2.3,1.3,.7,2.5,1.7,1.0,2.4,1.9,2.9,1.4,1.1,2.0,1.7,2.8,1.5,3.0,1.4,1.7,1.2,2.4,1.5,2.9,1.8,1.1,1.7,2.5,.9,2.2,1.5,2.7,1.6,1.2,2.3,1.0,2.6,1.4,2.1,3.0,1.1,2.4,1.3,2.9,1.9,1.1,2.3,1.6,2.9],
[2.6,1.6,1.2,2.1,.7,2.8,1.9,1.3,2.3,.9,1.6,3.0,.8,2.4,1.9,1.2,3.0,2.2,.9,1.6,2.3,3.1,1.7,2.4,1.1,.9,2.5,1.8,2.7,1.2,3.1,2.1,1.4,2.4,3.0,1.3,.9,2.3,1.6,2.5,3.0,1.1,2.7,2.1,1.4,3.1,1.2,2.2,2.7,1.4,.8,2.5,1.9,3.3,1.6,2.9,3.2,1.5,1.1,2.5,1.9,3.0,1.3,2.5,1.1,2.9,1.6,2.1,3.1,1.2,2.5,1.9,2.8,1.1,2.0,3.0,1.7,2.3,1.2,2.8,1.9,3.1,1.4,2.1,3.2,1.6],
[1.3,2.3,1.8,1.1,2.9,1.7,.6,2.0,1.5,2.8,1.2,2.1,.8,3.0,1.4,1.8,2.7,1.1,1.6,2.8,2.2,1.5,.6,2.1,2.6,1.7,2.1,.9,2.4,1.3,.7,2.2,2.9,1.7,1.2,3.2,2.0,1.0,2.4,1.7,1.1,2.9,1.8,2.4,.7,1.5,2.2,1.6,2.9,1.3,2.1,.9,2.7,1.4,2.6,1.5,2.0,3.0,1.2,2.1,1.5,.7,2.9,1.2,1.9,2.4,1.0,1.6,2.1,2.9,1.3,.8,2.4,1.9,1.0,2.2,.9,2.9,1.2,1.8,2.5,.9,2.9,1.9,1.2,3.0]
];

// panel b: dense core of each ensemble: [year, low, high]
var histCore = [[1950,-.6,.8],[1960,-.6,.9],[1970,-.8,.7],[1980,-.75,.8],[1990,-.4,1.2],[2000,.1,1.7],[2010,.4,1.9],[2014,.5,2.0]];
var sspLowCore = [[2015,.5,2.4],[2040,1.0,2.9],[2060,1.1,3.0],[2080,1.0,3.0],[2100,1.1,3.4]];
var sspHighCore = [[2015,.7,2.4],[2030,1.0,2.9],[2040,1.3,3.2],[2050,1.7,3.6],[2060,2.2,4.3],[2070,2.9,4.9],[2080,3.4,5.7],[2090,3.9,6.3],[2100,4.3,7.0]];

// panel c: smoothed means [year, value]
var cruSmooth = [[1950,.3],[1965,.29],[1972,.31],[1976,.38],[1980,.48],[1985,.63],[1990,.83],[1995,1.07],[2000,1.32],[2005,1.57],[2010,1.78],[2015,1.97],[2020,2.13]];
var histMean = [[1950,.13],[1965,.08],[1975,.12],[1980,.18],[1985,.3],[1990,.48],[1995,.7],[2000,.85],[2005,1.02],[2010,1.18],[2014,1.33]];
var sspHighMean = [[2015,1.3],[2020,1.55],[2030,2.05],[2040,2.5],[2050,3.05],[2060,3.65],[2070,4.35],[2080,5.0],[2090,5.65],[2099,6.3]];
var sspLowMean = [[2015,1.42],[2020,1.58],[2030,1.85],[2040,2.1],[2050,2.3],[2060,2.35],[2070,2.38],[2080,2.37],[2090,2.33],[2099,2.31]];

// panel c: uncertainty bands [year, low, high]
var histBand = [[1950,-1.3,1.55],[1960,-1.33,1.55],[1970,-1.35,1.6],[1980,-1.28,1.72],[1985,-1.15,1.85],[1990,-.98,2.05],[1995,-.82,2.2],[2000,-.65,2.35],[2007,-.45,2.6],[2014,-.25,2.82]];
var sspLowBand = [[2015,-.05,2.95],[2020,-.02,3.07],[2025,.0,3.27],[2030,.03,3.47],[2035,.07,3.72],[2040,.1,3.97],[2045,.15,4.17],[2050,.2,4.3],[2055,.27,4.38],[2060,.3,4.42],[2070,.25,4.52],[2080,.15,4.62],[2090,.03,4.67],[2099,-.05,4.7]];
var sspHighBand = [[2015,-.28,2.95],[2020,-.12,3.18],[2025,.05,3.42],[2030,.2,3.67],[2035,.35,4.05],[2040,.5,4.47],[2045,.65,4.87],[2050,.85,5.27],[2055,1.05,5.65],[2060,1.27,6.03],[2065,1.45,6.45],[2070,1.65,6.88],[2075,1.85,7.38],[2080,2.05,7.9],[2085,2.25,8.4],[2090,2.45,8.9],[2095,2.7,9.3],[2099,2.9,9.7]];

// panel a: coastlines, in map units
var mapMainland = [[215,1420],[160,1375],[145,1320],[170,1280],[185,1230],[178,1180],[210,1163],[270,1180],[330,1195],[370,1195],[385,1150],[390,1120],[365,1085],[320,1025],[370,1015],[395,1000],[430,1000],[465,965],[510,945],[545,895],[610,875],[610,800],[630,755],[645,770],[640,830],[630,880],[700,850],[720,870],[760,850],[820,835],[840,810],[840,780],[860,745],[885,730],[850,680],[880,660],[960,622],[920,605],[870,640],[820,635],[810,560],[840,480],[835,460],[795,460],[785,500],[750,570],[745,610],[775,660],[745,710],[750,760],[710,815],[690,790],[650,700],[625,715],[585,735],[575,715],[560,700],[565,680],[552,660],[568,640],[552,625],[570,612],[560,600],[600,565],[612,575],[640,530],[655,505],[670,460],[685,445],[700,390],[725,375],[730,340],[750,325],[775,320],[800,306],[1058,306],[1058,345],[1020,340],[1015,395],[1040,410],[1020,455],[985,440],[960,410],[910,385],[960,430],[1010,460],[1058,475],[1058,1255],[980,1265],[960,1290],[985,1320],[1058,1345],[1000,1345],[985,1410],[950,1415],[930,1380],[915,1345],[880,1300],[870,1260],[800,1215],[750,1165],[700,1135],[695,1165],[720,1200],[760,1260],[810,1285],[855,1310],[815,1320],[810,1360],[785,1385],[800,1330],[770,1320],[690,1280],[650,1215],[610,1185],[560,1220],[490,1205],[465,1255],[395,1290],[385,1350],[350,1385],[280,1375],[240,1410]];
var mapIceland = [[180,370],[215,358],[222,385],[262,395],[300,405],[315,435],[305,455],[270,465],[235,475],[205,455],[175,430],[195,405],[178,385]];
var mapIreland = [[232,880],[250,850],[255,815],[300,790],[340,805],[335,835],[320,870],[280,895],[240,905]];
var mapBritain = [[410,685],[420,690],[405,720],[425,740],[395,775],[420,800],[440,860],[470,895],[465,935],[460,960],[400,965],[315,968],[345,940],[375,925],[335,905],[365,880],[385,860],[370,825],[345,790],[360,750],[345,735],[365,700]];
var mapIslands = [
[[610,1240],[630,1235],[632,1265],[615,1290],[607,1270]],
[[600,1295],[630,1290],[632,1345],[610,1360],[600,1330]],
[[705,1385],[770,1375],[780,1425],[735,1405]],
[[360,1452],[400,1435],[500,1420],[600,1420],[645,1410],[665,1452]],
[[210,1452],[230,1425],[240,1452]],
[[1005,1452],[1015,1440],[1058,1440],[1058,1452]],
[[450,1330],[480,1325],[470,1345]],
[[420,1350],[432,1348],[426,1360]],
[[780,755],[795,725],[790,750]],
[[368,570],[385,570],[375,595]],
[[448,640],[462,635],[450,660]],
[[330,710],[355,695],[345,730],[325,735]],
[[340,770],[362,765],[355,790]],
[[650,820],[680,815],[670,845]],
[[840,690],[860,680],[855,710]],
[[1000,1290],[1040,1265],[1030,1300]]
];
var mapHighlands = [[[570,680],[600,600],[660,530],[700,440],[770,340],[790,350],[730,470],[680,570],[640,660],[600,720]],[[640,1090],[760,1075],[765,1130],[640,1145]],[[810,1010],[940,995],[1030,1090],[1020,1115],[930,1130],[985,1060],[920,1025],[820,1030]]];
var mapRegion = [[533,997],[638,999],[641,1163],[526,1161]];

var red = '#e2063c', blue = '#35bdf0', grey = '#7f7f7f', dark = '#292c2e';
var axisFont = 'DejaVu Sans', labelFont = 'Liberation Sans', noteFont = 'Open Sans';

function yearly(run, start) {
    return run.map(function (v, i) { return [start + i, v]; });
}
function lineSeries(axis, data, color, width, z) {
    return {
        type: 'line', xAxisIndex: axis, yAxisIndex: axis, data: data, showSymbol: false, symbol: 'none',
        lineStyle: { color: color, width: width }, z: z, silent: true
    };
}
// filled low/high band, built with the axis scales
function bandSeries(axis, rows, color, z) {
    return {
        type: 'custom', xAxisIndex: axis, yAxisIndex: axis, z: z, silent: true,
        data: [0],
        renderItem: function (params, api) {
            var pts = [];
            rows.forEach(function (r) { pts.push(api.coord([r[0], r[2]])); });
            rows.slice().reverse().forEach(function (r) { pts.push(api.coord([r[0], r[1]])); });
            return { type: 'polygon', shape: { points: pts }, style: { fill: color } };
        }
    };
}
function mapSeries(rings, fill, stroke, width, z) {
    return {
        type: 'custom', xAxisIndex: 2, yAxisIndex: 2, z: z, silent: true, clip: true,
        data: rings.map(function (r, i) { return i; }),
        renderItem: function (params, api) {
            var pts = rings[params.dataIndex].map(function (p) { return api.coord(p); });
            return { type: 'polygon', shape: { points: pts }, style: { fill: fill, stroke: stroke, lineWidth: width, opacity: 1 } };
        }
    };
}
function chartXAxis(index) {
    return {
        type: 'value', gridIndex: index, min: 1950, max: 2100,
        name: 'Year', nameLocation: 'middle', nameGap: 33,
        nameTextStyle: { fontFamily: axisFont, fontSize: 22, color: '#111' },
        axisLine: { show: false, onZero: false },
        axisTick: { show: true, length: 5, customValues: xTicks, lineStyle: { color: '#444' } },
        axisLabel: {
            customValues: xTicks, fontFamily: axisFont, fontSize: 19, color: '#111', margin: 8,
            formatter: function (v) { return '' + v; }
        },
        splitLine: { show: false }
    };
}
function chartYAxis(index, gap) {
    return {
        type: 'value', gridIndex: index, min: -3.5, max: 10,
        name: 'ΔT relative to 1900-1930 (K)', nameLocation: 'middle', nameGap: gap,
        nameTextStyle: { fontFamily: axisFont, fontSize: 22, color: '#111' },
        axisLine: { show: false, onZero: false },
        axisTick: { show: true, length: 5, customValues: yTicks, lineStyle: { color: '#444' } },
        axisLabel: {
            customValues: yTicks, fontFamily: axisFont, fontSize: 19, color: '#111', margin: 7,
            formatter: function (v) { return v < 0 ? '\u2212' + (-v) : '' + v; }
        },
        splitLine: { show: false }
    };
}
function text(str, x, y, font, fill, align) {
    return { type: 'text', z: 50, style: { text: str, x: x, y: y, font: font, fill: fill, textAlign: align || 'left', textVerticalAlign: 'middle' } };
}
function arrow(points, fill) {
    return { type: 'polygon', z: 40, shape: { points: points }, style: { fill: fill } };
}

var series = [];

// panel b
series.push(bandSeries(0, histCore, 'rgba(150,150,150,0.45)', 2));
series.push(bandSeries(0, sspLowCore, 'rgba(53,189,240,0.35)', 2));
series.push(bandSeries(0, sspHighCore, 'rgba(226,6,60,0.18)', 3));
histRuns.forEach(function (run) {
    series.push(lineSeries(0, yearly(run, 1950), '#979797', 1.2, 4));
});
sspLowRuns.forEach(function (run, i) {
    series.push(lineSeries(0, yearly(run, 2015), blue, 1.2, i % 2 ? 6 : 4));
    series.push(lineSeries(0, yearly(sspHighRuns[i], 2015), red, 1.2, 5));
});
series.push(lineSeries(0, yearly(cruYearly, 1950), '#000', 3.2, 8));
var dashed = lineSeries(0, [[2050, -3.5], [2050, 10]], '#555', 4.5, 9);
dashed.lineStyle.type = [13.4, 13.4];
dashed.lineStyle.dashOffset = 10;
series.push(dashed);

// panel c
series.push(bandSeries(1, histBand, '#dfdfdf', 2));
series.push(bandSeries(1, sspLowBand, '#c3e9f9', 2));
series.push(bandSeries(1, sspHighBand, 'rgba(235,65,105,0.4)', 3));
var s;
[[histMean, '#8c8c8c', 3.6], [cruSmooth, '#000', 3.6], [sspLowMean, blue, 3.6], [sspHighMean, red, 3.6]].forEach(function (c, i) {
    s = lineSeries(1, c[0], c[1], c[2], 5 + i);
    s.smooth = 0.4;
    series.push(s);
});

// panel a
series.push(mapSeries([mapIceland], '#dcdcd0', '#111', 1.5, 3));
series.push(mapSeries([mapMainland], new echarts.graphic.LinearGradient(0, 0, 0, 1, [
    { offset: 0, color: '#c4d3b0' }, { offset: 0.35, color: '#bcd2a8' }, { offset: 0.52, color: '#dfe3b2' }, { offset: 1, color: '#e8e6b4' }
]), '#111', 1.5, 3));
series.push(mapSeries([mapIreland, mapBritain], '#e5e6b3', '#111', 1.5, 3));
series.push(mapSeries(mapIslands, '#e3e4b2', '#111', 1.2, 3));
series.push(mapSeries(mapHighlands, 'rgba(170,170,155,0.3)', 'none', 0, 4));
series.push(mapSeries([mapRegion], '#df5b34', 'none', 0, 5));

var legendFont = '26.5px "' + labelFont + '"';
var noteFontCss = '28px "' + noteFont + '"';
var panelFont = '54px "' + labelFont + '"';
var legendColors = [red, blue, '#111', grey];
var legendB = [67, 115, 171, 218], legendC = [769, 816, 871.5, 919];

var graphics = [
    text('(a)', 19, 363, panelFont, '#111'),
    text('(b)', 507, 48, panelFont, '#111'),
    text('(c)', 508, 678, panelFont, '#111'),
    text('Warming by 2050?', 1311, 457, noteFontCss, '#111'),
    text('Internal variability', 1757, 441, noteFontCss, '#111', 'center'),
    text('uncertainty', 1757, 478, noteFontCss, '#111', 'center'),
    text('Model', 1736, 748, noteFontCss, '#808080', 'center'),
    text('uncertainty', 1736, 785, noteFontCss, '#808080', 'center'),
    text('Scenario', 1784, 910, noteFontCss, '#111', 'center'),
    text('uncertainty', 1784, 947, noteFontCss, '#111', 'center'),
    arrow([[363,392],[497,290],[483,273],[539,276],[537,333],[521,316],[390,425]], dark),
    arrow([[1106,585],[1150,585],[1150,676],[1168,676],[1128,715],[1087,676],[1106,676]], dark),
    arrow([[1611,729],[1631,749],[1622,749],[1621,955],[1629,955],[1609,974],[1590,955],[1599,955],[1600,749],[1591,749]], '#808080'),
    arrow([[1667,845],[1687,864],[1678,864],[1677,985],[1686,985],[1666,1004],[1647,985],[1656,985],[1656,864],[1647,864]], dark)
];
legendLabels.forEach(function (label, i) {
    graphics.push(text(label, 695, legendB[i], legendFont, legendColors[i]));
    graphics.push(text(label, 694, legendC[i], legendFont, legendColors[i]));
});

var myChart = echarts.init(document.getElementById('main'), null, { renderer: 'canvas' });
var option = {
    animation: false,
    backgroundColor: '#fff',
    tooltip: { show: false },
    grid: [
        { left: 662, top: 27, width: 925, height: 489, show: true, borderColor: '#555', borderWidth: 1.2, backgroundColor: '#fff' },
        { left: 655.5, top: 725, width: 924, height: 489, show: true, borderColor: '#555', borderWidth: 1.2, backgroundColor: '#fff' },
        { left: 19, top: 422, width: 334, height: 382, show: true, borderColor: '#555', borderWidth: 1.2, backgroundColor: '#7db1d7' }
    ],
    xAxis: [chartXAxis(0), chartXAxis(1), { type: 'value', gridIndex: 2, min: 58, max: 1058, show: false }],
    yAxis: [chartYAxis(0, 40), chartYAxis(1, 42), { type: 'value', gridIndex: 2, min: 306, max: 1452, inverse: true, show: false }],
    series: series,
    graphic: graphics
};
myChart.setOption(option);
</script>
</body>
</html>
